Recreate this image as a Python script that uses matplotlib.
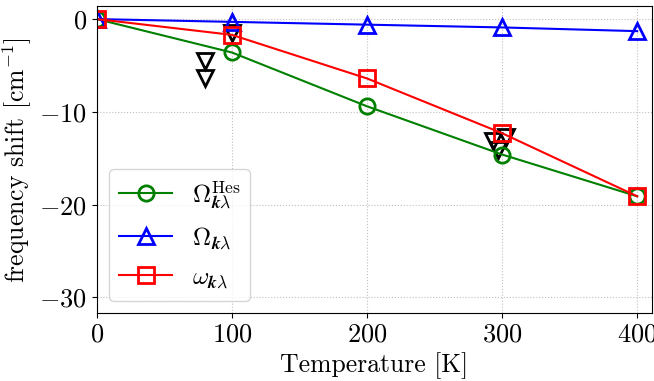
import matplotlib
matplotlib.use("Agg")
import matplotlib.pyplot as plt

plt.rcParams["font.family"] = "serif"
plt.rcParams["font.serif"] = ["cmr10"]
plt.rcParams["mathtext.fontset"] = "cm"
plt.rcParams["axes.formatter.use_mathtext"] = True

temps = [0, 100, 200, 300, 400]
omega_hes = [0, -3.6, -9.4, -14.6, -19.1]
omega_big = [0, -0.3, -0.6, -0.9, -1.3]
omega_small = [0, -1.7, -6.4, -12.3, -19.1]

exp_t = [80, 80, 100, 293, 303, 297]
exp_shift = [-4.5, -6.3, -1.5, -13.1, -12.7, -14.1]

fig, ax = plt.subplots(figsize=(6.54, 3.81), dpi=100)

ax.plot(exp_t, exp_shift, ls="none", marker="v", ms=11, mfc="none",
        mec="black", mew=2)
ax.plot(temps, omega_hes, color="green", marker="o", ms=11, mfc="none", mew=2,
        lw=1.5, label=r"$\Omega^{\mathrm{Hes}}_{\boldsymbol{k}\lambda}$")
ax.plot(temps, omega_big, color="blue", marker="^", ms=11, mfc="none", mew=2,
        lw=1.5, label=r"$\Omega_{\boldsymbol{k}\lambda}$")
ax.plot(temps, omega_small, color="red", marker="s", ms=11, mfc="none", mew=2,
        lw=1.5, label=r"$\omega_{\boldsymbol{k}\lambda}$")

ax.set_xlim(0, 411)
ax.set_ylim(-31.7, 1.4)
ax.set_xticks([0, 100, 200, 300, 400])
ax.set_yticks([0, -10, -20, -30])
ax.tick_params(labelsize=19)
ax.grid(True, ls=":", color="0.75", lw=0.8)
ax.set_xlabel("Temperature [K]", fontsize=18.5)
ax.set_ylabel(r"frequency shift [cm$^{-1}$]", fontsize=18.5)
ax.legend(loc="lower left", fontsize=18, handlelength=2.1, labelspacing=0.6)

fig.subplots_adjust(left=0.148, right=0.997, top=0.984, bottom=0.178)
fig.savefig("out.png")
